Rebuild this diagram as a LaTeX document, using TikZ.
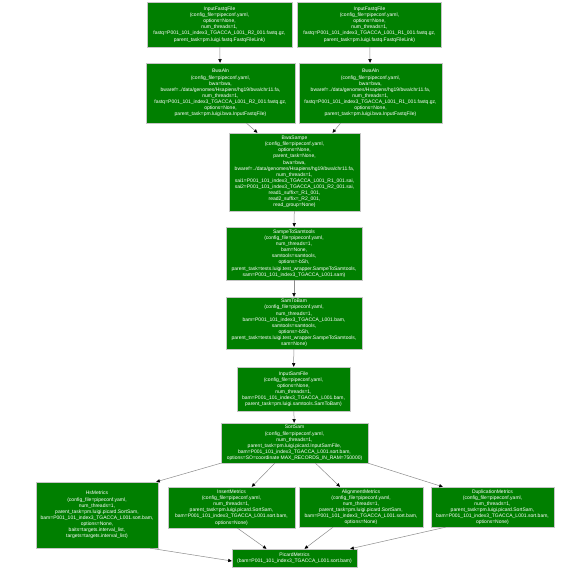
\documentclass[tikz,border=0pt]{standalone}
\usepackage{fontspec}
\usepackage{tikz}
\usetikzlibrary{arrows.meta,positioning,calc}
\newfontfamily\taskfont{Liberation Sans}
\definecolor{taskgreen}{HTML}{007F00}
\definecolor{taskedge}{HTML}{8C8C8C}

\tikzset{
  task/.style={draw=gray!45, line width=0.4pt, fill=taskgreen, text=white,
    font=\taskfont\fontsize{5}{6.1}\selectfont, align=center, inner sep=0pt},
  dep/.style={draw=taskedge, line width=0.5pt,
    -{Triangle[color=black, length=3.6pt, width=3.2pt]}}
}

\begin{document}
\begin{tikzpicture}[x=1pt, y=-1pt]
  \fill[white] (0,0) rectangle (577,578);
  \useasboundingbox (0,0) rectangle (577,578);

  % Input files
  \node[task, minimum width=145pt, minimum height=45pt] (fastqL) at (219.5,24.5) {%
    InputFastqFile\\(config\_file=pipeconf.yaml,\\options=None,\\num\_threads=1,\\
    fastq=P001\_101\_index3\_TGACCA\_L001\_R2\_001.fastq.gz,\\
    parent\_task=pm.luigi.fastq.FastqFileLink)};
  \node[task, minimum width=144pt, minimum height=45pt] (fastqR) at (369.5,24.5) {%
    InputFastqFile\\(config\_file=pipeconf.yaml,\\options=None,\\num\_threads=1,\\
    fastq=P001\_101\_index3\_TGACCA\_L001\_R1\_001.fastq.gz,\\
    parent\_task=pm.luigi.fastq.FastqFileLink)};

  % Alignment
  \node[task, minimum width=149pt, minimum height=60pt] (bwaL) at (220.5,93) {%
    BwaAln\\(config\_file=pipeconf.yaml,\\bwa=bwa,\\
    bwaref=../data/genomes/Hsapiens/hg19/bwa/chr11.fa,\\num\_threads=1,\\
    fastq=P001\_101\_index3\_TGACCA\_L001\_R2\_001.fastq.gz,\\options=None,\\
    parent\_task=pm.luigi.bwa.InputFastqFile)};
  \node[task, minimum width=143pt, minimum height=60pt] (bwaR) at (370.5,93) {%
    BwaAln\\(config\_file=pipeconf.yaml,\\bwa=bwa,\\
    bwaref=../data/genomes/Hsapiens/hg19/bwa/chr11.fa,\\num\_threads=1,\\
    fastq=P001\_101\_index3\_TGACCA\_L001\_R1\_001.fastq.gz,\\options=None,\\
    parent\_task=pm.luigi.bwa.InputFastqFile)};
  \node[task, minimum width=131pt, minimum height=78pt] (sampe) at (294.5,172) {%
    BwaSampe\\(config\_file=pipeconf.yaml,\\options=None,\\parent\_task=None,\\bwa=bwa,\\
    bwaref=../data/genomes/Hsapiens/hg19/bwa/chr11.fa,\\num\_threads=1,\\
    sai1=P001\_101\_index3\_TGACCA\_L001\_R1\_001.sai,\\
    sai2=P001\_101\_index3\_TGACCA\_L001\_R2\_001.sai,\\
    read1\_suffix=\_R1\_001,\\read2\_suffix=\_R2\_001,\\read\_group=None)};

  % Samtools
  \node[task, minimum width=136pt, minimum height=53pt] (s2s) at (294,253.5) {%
    SampeToSamtools\\(config\_file=pipeconf.yaml,\\num\_threads=1,\\bam=None,\\
    samtools=samtools,\\options=-bSh,\\
    parent\_task=tests.luigi.test\_wrapper.SampeToSamtools,\\
    sam=P001\_101\_index3\_TGACCA\_L001.sam)};
  \node[task, minimum width=136pt, minimum height=52pt] (s2b) at (294,323) {%
    SamToBam\\(config\_file=pipeconf.yaml,\\num\_threads=1,\\
    bam=P001\_101\_index3\_TGACCA\_L001.bam,\\samtools=samtools,\\options=-bSh,\\
    parent\_task=tests.luigi.test\_wrapper.SampeToSamtools,\\sam=None)};
  \node[task, minimum width=113pt, minimum height=44pt] (isf) at (293.5,389) {%
    InputSamFile\\(config\_file=pipeconf.yaml,\\options=None,\\num\_threads=1,\\
    bam=P001\_101\_index3\_TGACCA\_L001.bam,\\
    parent\_task=pm.luigi.samtools.SamToBam)};

  % Picard
  \node[task, minimum width=147pt, minimum height=40pt] (sortsam) at (294.5,443) {%
    SortSam\\(config\_file=pipeconf.yaml,\\num\_threads=1,\\
    parent\_task=pm.luigi.picard.InputSamFile,\\
    bam=P001\_101\_index3\_TGACCA\_L001.sort.bam,\\
    options=SO=coordinate MAX\_RECORDS\_IN\_RAM=750000)};
  \node[task, minimum width=122pt, minimum height=66pt] (hs) at (97,515) {%
    HsMetrics\\(config\_file=pipeconf.yaml,\\num\_threads=1,\\
    parent\_task=pm.luigi.picard.SortSam,\\
    bam=P001\_101\_index3\_TGACCA\_L001.sort.bam,\\options=None,\\
    baits=targets.interval\_list,\\targets=targets.interval\_list)};
  \node[task, minimum width=127pt, minimum height=41pt] (ins) at (231.5,507.5) {%
    InsertMetrics\\(config\_file=pipeconf.yaml,\\num\_threads=1,\\
    parent\_task=pm.luigi.picard.SortSam,\\
    bam=P001\_101\_index3\_TGACCA\_L001.sort.bam,\\options=None)};
  \node[task, minimum width=124pt, minimum height=40pt] (aln) at (361,507) {%
    AlignmentMetrics\\(config\_file=pipeconf.yaml,\\num\_threads=1,\\
    parent\_task=pm.luigi.picard.SortSam,\\
    bam=P001\_101\_index3\_TGACCA\_L001.sort.bam,\\options=None)};
  \node[task, minimum width=123pt, minimum height=40pt] (dup) at (492.5,507) {%
    DuplicationMetrics\\(config\_file=pipeconf.yaml,\\num\_threads=1,\\
    parent\_task=pm.luigi.picard.SortSam,\\
    bam=P001\_101\_index3\_TGACCA\_L001.sort.bam,\\options=None)};
  \node[task, minimum width=125pt, minimum height=18pt] (picard) at (294.5,558) {%
    PicardMetrics\\(bam=P001\_101\_index3\_TGACCA\_L001.sort.bam)};

  % Dependencies
  \draw[dep] (fastqL) -- (bwaL);
  \draw[dep] (fastqR) -- (bwaR);
  \draw[dep] ([xshift=26pt]bwaL.south) -- ([xshift=-37pt]sampe.north);
  \draw[dep] ([xshift=-30pt]bwaR.south) -- ([xshift=38pt]sampe.north);
  \draw[dep] (sampe) -- (s2s);
  \draw[dep] (s2s) -- (s2b);
  \draw[dep] (s2b) -- (isf);
  \draw[dep] (isf) -- (sortsam);
  \draw[dep] (sortsam.south west) -- ([xshift=-2pt]hs.north east);
  \draw[dep] (sortsam) -- (ins);
  \draw[dep] (sortsam) -- (aln);
  \draw[dep] (sortsam.south east) -- ([xshift=12pt]dup.north west);
  \draw[dep] ([xshift=-8pt]hs.south east) -- ([yshift=-3pt]picard.west);
  \draw[dep] ([xshift=6pt]ins.south) -- ([xshift=-28pt]picard.north);
  \draw[dep] ([xshift=-28pt]aln.south) -- ([xshift=10pt]picard.north);
  \draw[dep] ([xshift=-47pt]dup.south) -- ([xshift=-7pt]picard.north east);
\end{tikzpicture}
\end{document}
